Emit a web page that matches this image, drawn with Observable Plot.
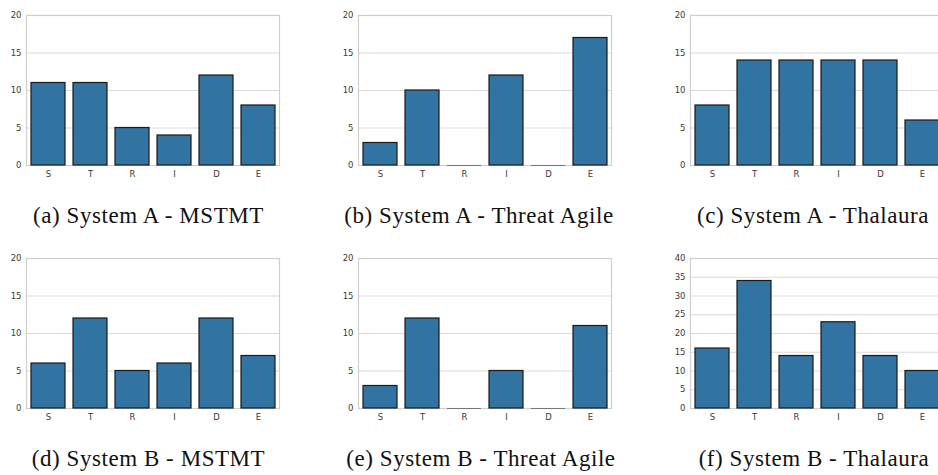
<!DOCTYPE html>
<html>
<head>
<meta charset="utf-8">
<script src="https://cdn.jsdelivr.net/npm/d3@7"></script>
<script src="https://cdn.jsdelivr.net/npm/@observablehq/plot@0.6"></script>
<style>
  html, body { margin: 0; padding: 0; background: #fff; }
  #root { position: relative; width: 938px; height: 475px; overflow: hidden; background: #fff; }
  .panel { position: absolute; }
  .caption { position: absolute; width: 320px; text-align: center; font-family: "Liberation Serif", serif; font-size: 23px; letter-spacing: 0.55px; line-height: 23px; color: #111; white-space: nowrap; }
</style>
</head>
<body>
<div id="root"></div>
<script>
// ---- data ----
const categories = ["S", "T", "R", "I", "D", "E"];
const systemA_MSTMT = [11, 11, 5, 4, 12, 8];
const systemA_ThreatAgile = [3, 10, 0, 12, 0, 17];
const systemA_Thalaura = [8, 14, 14, 14, 14, 6];
const systemB_MSTMT = [6, 12, 5, 6, 12, 7];
const systemB_ThreatAgile = [3, 12, 0, 5, 0, 11];
const systemB_Thalaura = [16, 34, 14, 23, 14, 10];
const captions = [
  "(a) System A - MSTMT",
  "(b) System A - Threat Agile",
  "(c) System A - Thalaura",
  "(d) System B - MSTMT",
  "(e) System B - Threat Agile",
  "(f) System B - Thalaura"
];
const yMaxes = [20, 20, 20, 20, 20, 40];
const yTickSets = [
  [0, 5, 10, 15, 20], [0, 5, 10, 15, 20], [0, 5, 10, 15, 20],
  [0, 5, 10, 15, 20], [0, 5, 10, 15, 20], [0, 5, 10, 15, 20, 25, 30, 35, 40]
];
const seriesList = [systemA_MSTMT, systemA_ThreatAgile, systemA_Thalaura, systemB_MSTMT, systemB_ThreatAgile, systemB_Thalaura];

// ---- layout ----
const plotLefts = [26, 358, 690, 26, 358, 690];
const plotTops = [15, 15, 15, 258, 258, 258];
const captionCenters = [148.5, 479, 813, 148.5, 481, 814];
const captionTops = [204, 204, 204, 447, 447, 447];
const plotW = 253, plotH = 150;
const mL = 24, mR = 4, mT = 6, mB = 20;

const root = document.getElementById("root");

seriesList.forEach((vals, i) => {
  const data = categories.map((c, j) => ({cat: c, value: vals[j]}));
  const chart = Plot.plot({
    width: plotW + mL + mR,
    height: plotH + mT + mB,
    marginLeft: mL, marginRight: mR, marginTop: mT, marginBottom: mB,
    style: {fontFamily: "DejaVu Sans, sans-serif", fontSize: "8px", color: "#3a3a3a", background: "transparent"},
    x: {domain: categories, paddingInner: 0.2, paddingOuter: 0.1, label: null},
    y: {domain: [0, yMaxes[i]], label: null},
    marks: [
      Plot.gridY(yTickSets[i], {stroke: "#d9d9d9", strokeOpacity: 1, strokeWidth: 1.2}),
      Plot.frame({stroke: "#cfcfcf", strokeWidth: 1.2}),
      Plot.barY(data, {x: "cat", y: "value", fill: "#3274a1", stroke: "#1a1a1a", strokeWidth: 1.2}),
      Plot.tickY(data.filter(d => d.value === 0), {x: "cat", y: "value", stroke: "#777", strokeWidth: 1}),
      Plot.axisY({ticks: yTickSets[i], tickSize: 0, tickPadding: 5, fontSize: 8.5}),
      Plot.axisX({tickSize: 0, tickPadding: 5, fontSize: 8.5})
    ]
  });
  chart.classList.add("panel");
  chart.style.left = (plotLefts[i] - mL) + "px";
  chart.style.top = (plotTops[i] - mT) + "px";
  root.appendChild(chart);

  const cap = document.createElement("div");
  cap.className = "caption";
  cap.textContent = captions[i];
  cap.style.left = (captionCenters[i] - 160) + "px";
  cap.style.top = captionTops[i] + "px";
  root.appendChild(cap);
});
</script>
</body>
</html>
